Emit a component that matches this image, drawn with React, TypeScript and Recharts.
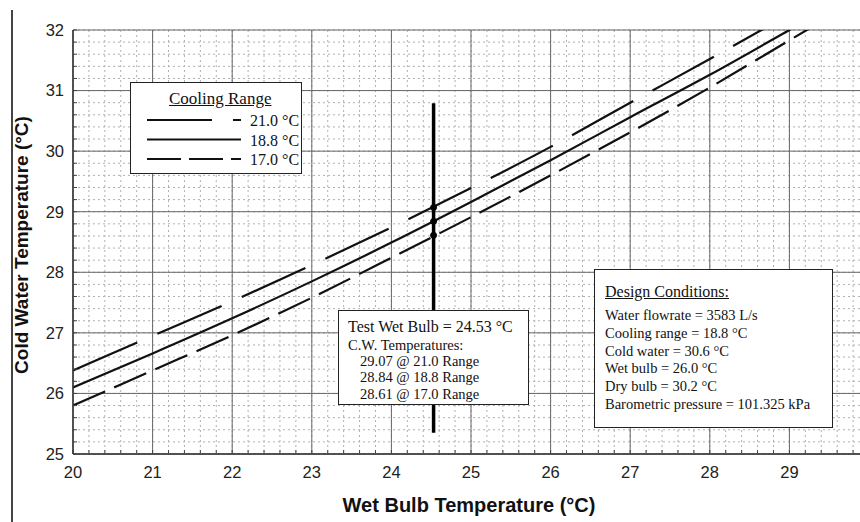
import React from 'react';
import { LineChart, Line, XAxis, YAxis, CartesianGrid, ReferenceLine } from 'recharts';

// ---- data ----
const wetBulb = [20, 21, 22, 23, 24, 25, 26, 27, 28, 29, 30];
const range21 = [26.38, 26.95, 27.52, 28.12, 28.74, 29.39, 30.07, 30.8, 31.52, 32.26, 33.0];
const range188 = [26.1, 26.66, 27.24, 27.85, 28.49, 29.16, 29.85, 30.56, 31.26, 32.0, 32.75];
const range17 = [25.8, 26.38, 26.96, 27.58, 28.24, 28.91, 29.6, 30.31, 31.05, 31.83, 32.6];

const testWetBulb = 24.53;
const testLineTop = 30.79;
const testLineBottom = 25.35;
const cwTemps = [29.07, 28.84, 28.61];

const xMajorTicks = [20, 21, 22, 23, 24, 25, 26, 27, 28, 29, 30];
const yMajorTicks = [25, 26, 27, 28, 29, 30, 31, 32];
const minorStep = 0.2;

const legendRows = [
  { label: '21.0 °C', dash: '65 21' },
  { label: '18.8 °C', dash: undefined },
  { label: '17.0 °C', dash: '34 8' },
];
const testLines = [
  'Test Wet Bulb = 24.53 °C',
  'C.W. Temperatures:',
  '29.07 @ 21.0 Range',
  '28.84 @ 18.8 Range',
  '28.61 @ 17.0 Range',
];
const designTitle = 'Design Conditions:';
const designLines = [
  'Water flowrate = 3583 L/s',
  'Cooling range = 18.8 °C',
  'Cold water = 30.6 °C',
  'Wet bulb = 26.0 °C',
  'Dry bulb = 30.2 °C',
  'Barometric pressure = 101.325 kPa',
];

// ---- derived structures ----
const data = wetBulb.map((x, i) => ({ x, r21: range21[i], r188: range188[i], r17: range17[i] }));
const testLine = [
  { x: testWetBulb, y: testLineTop },
  { x: testWetBulb, y: testLineBottom },
];
const testPoints = cwTemps.map((y) => ({ x: testWetBulb, y }));

function minorTicks(lo: number, hi: number) {
  const out: number[] = [];
  const n = Math.round((hi - lo) / minorStep);
  for (let i = 0; i <= n; i++) out.push(Math.round((lo + i * minorStep) * 100) / 100);
  return out;
}
const xTicks = minorTicks(20, 30);
const yTicks = minorTicks(25, 32);
const fmt = (v: number) => (Math.abs(v - Math.round(v)) < 1e-6 ? String(Math.round(v)) : '');

const serif = "'Liberation Serif', 'Times New Roman', serif";
const sans = "'Liberation Sans', Arial, sans-serif";

function T({ x, y, size, children, underline }: { x: number; y: number; size: number; children: React.ReactNode; underline?: boolean }) {
  return (
    <div
      style={{
        position: 'absolute',
        left: x,
        top: y - size / 2,
        fontSize: size,
        lineHeight: `${size}px`,
        fontFamily: serif,
        color: '#111',
        whiteSpace: 'nowrap',
        textDecoration: underline ? 'underline' : 'none',
      }}
    >
      {children}
    </div>
  );
}

const boxStyle = (left: number, top: number, width: number, height: number): React.CSSProperties => ({
  position: 'absolute',
  left,
  top,
  width,
  height,
  border: '1.5px solid #222',
  background: '#fff',
  boxSizing: 'border-box',
});

export default function App() {
  return (
    <div style={{ position: 'absolute', left: 0, top: 0, width: 860, height: 522, overflow: 'hidden', background: '#fff' }}>
      <div style={{ position: 'absolute', left: 11, top: 10, width: 1.5, height: 512, background: '#444' }} />
      <LineChart width={900} height={522} data={data} margin={{ top: 30, right: 31, bottom: 38, left: 23 }}>
        <CartesianGrid stroke="#b0b0b0" strokeDasharray="2 3" strokeWidth={1} />
        {xMajorTicks.map((v) => (
          <ReferenceLine key={'vx' + v} x={v} stroke="#666" strokeWidth={1} />
        ))}
        {yMajorTicks.map((v) => (
          <ReferenceLine key={'hy' + v} y={v} stroke="#666" strokeWidth={1} />
        ))}
        <XAxis
          type="number"
          dataKey="x"
          domain={[20, 30]}
          ticks={xTicks}
          interval={0}
          tickFormatter={fmt}
          tickSize={-4}
          tickMargin={16}
          height={30}
          allowDataOverflow
          axisLine={{ stroke: '#333', strokeWidth: 1.5 }}
          tickLine={{ stroke: '#444' }}
          tick={{ fill: '#222', fontSize: 16.5, fontFamily: sans }}
        />
        <XAxis
          xAxisId="top"
          orientation="top"
          type="number"
          dataKey="x"
          domain={[20, 30]}
          ticks={xTicks}
          interval={0}
          tickFormatter={() => ''}
          tickSize={-4}
          height={0}
          allowDataOverflow
          axisLine={{ stroke: '#333', strokeWidth: 1.5 }}
          tickLine={{ stroke: '#444' }}
        />
        <YAxis
          type="number"
          domain={[25, 32]}
          ticks={yTicks}
          interval={0}
          tickFormatter={fmt}
          tickSize={-4}
          tickMargin={13}
          width={50}
          allowDataOverflow
          axisLine={{ stroke: '#333', strokeWidth: 1.5 }}
          tickLine={{ stroke: '#444' }}
          tick={{ fill: '#222', fontSize: 16.5, fontFamily: sans }}
        />
        <Line dataKey="r21" type="monotone" stroke="#111" strokeWidth={2.2} strokeDasharray="70 22" dot={false} isAnimationActive={false} />
        <Line dataKey="r188" type="monotone" stroke="#111" strokeWidth={2.2} dot={false} isAnimationActive={false} />
        <Line dataKey="r17" type="monotone" stroke="#111" strokeWidth={2.2} strokeDasharray="35 10" dot={false} isAnimationActive={false} />
        <Line data={testLine} dataKey="y" type="linear" stroke="#000" strokeWidth={3.5} dot={false} isAnimationActive={false} />
        <Line
          data={testPoints}
          dataKey="y"
          type="linear"
          stroke="none"
          dot={{ r: 3, fill: '#000', stroke: '#000' }}
          isAnimationActive={false}
        />
      </LineChart>

      {/* axis titles */}
      <div
        style={{
          position: 'absolute',
          left: 469 - 200,
          top: 493,
          width: 400,
          textAlign: 'center',
          fontFamily: sans,
          fontWeight: 'bold',
          fontSize: 20,
          lineHeight: '24px',
          color: '#111',
        }}
      >
        Wet Bulb Temperature (°C)
      </div>
      <div
        style={{
          position: 'absolute',
          left: 22 - 200,
          top: 245 - 12,
          width: 400,
          height: 24,
          textAlign: 'center',
          fontFamily: sans,
          fontWeight: 'bold',
          fontSize: 19,
          lineHeight: '24px',
          color: '#111',
          transform: 'rotate(-90deg)',
        }}
      >
        Cold Water Temperature (°C)
      </div>

      {/* Cooling range legend */}
      <div style={boxStyle(130, 82, 172, 92)} />
      <T x={169} y={98} size={17} underline>
        Cooling Range
      </T>
      <svg style={{ position: 'absolute', left: 0, top: 0 }} width={860} height={522} pointerEvents="none">
        {legendRows.map((r, i) => (
          <line
            key={r.label}
            x1={147}
            x2={241}
            y1={120 + i * 19.5}
            y2={120 + i * 19.5}
            stroke="#111"
            strokeWidth={2}
            strokeDasharray={r.dash}
          />
        ))}
      </svg>
      {legendRows.map((r, i) => (
        <T key={r.label} x={250} y={121 + i * 19.5} size={16}>
          {r.label}
        </T>
      ))}

      {/* test wet bulb box */}
      <div style={boxStyle(338, 310, 191, 95)} />
      <T x={348} y={327} size={16}>
        {testLines[0]}
      </T>
      <T x={348} y={345} size={14.5}>
        {testLines[1]}
      </T>
      {testLines.slice(2).map((s, i) => (
        <T key={s} x={360} y={361 + i * 16.5} size={14.5}>
          {s}
        </T>
      ))}

      {/* design conditions box */}
      <div style={boxStyle(594, 269, 239, 159)} />
      <T x={605} y={292} size={16} underline>
        {designTitle}
      </T>
      {designLines.map((s, i) => (
        <T key={s} x={605} y={315 + i * 17.9} size={14.5}>
          {s}
        </T>
      ))}
    </div>
  );
}
